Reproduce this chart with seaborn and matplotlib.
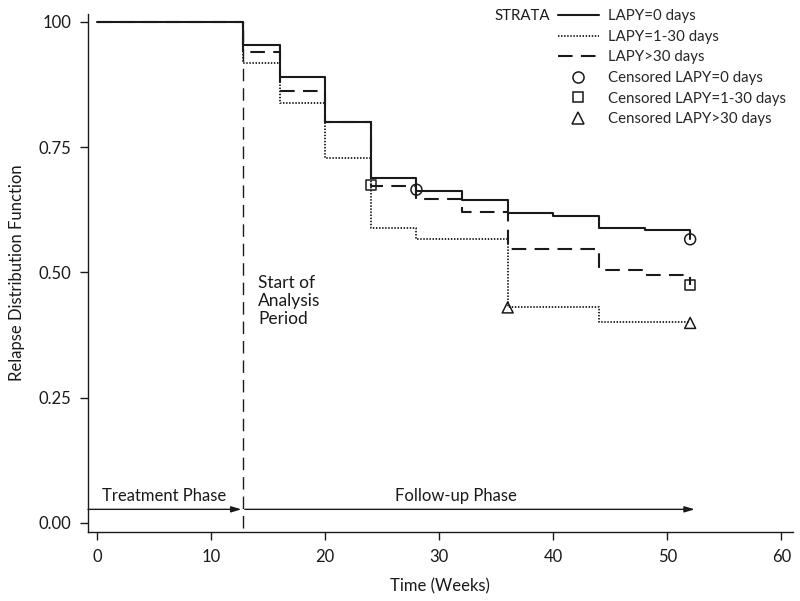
import pandas as pd
import matplotlib
matplotlib.use("Agg")
import matplotlib.pyplot as plt
import seaborn as sns
from matplotlib.lines import Line2D

# step data (Kaplan-Meier style relapse curves)
weeks_0 = [0, 12.8, 16, 20, 24, 28, 32, 36, 40, 44, 48, 52]
rdf_0 = [1.0, 0.953, 0.890, 0.801, 0.688, 0.663, 0.645, 0.618, 0.613, 0.589, 0.585, 0.566]

weeks_1_30 = [0, 12.8, 16, 20, 24, 28, 36, 44, 52]
rdf_1_30 = [1.0, 0.917, 0.839, 0.729, 0.588, 0.566, 0.430, 0.400, 0.400]

weeks_gt30 = [0, 12.8, 16, 20, 24, 28, 32, 36, 44, 48, 52]
rdf_gt30 = [1.0, 0.940, 0.861, 0.801, 0.673, 0.646, 0.621, 0.546, 0.504, 0.495, 0.475]

# censored points
cens_weeks_0 = [28, 52]
cens_rdf_0 = [0.665, 0.566]
cens_weeks_1_30 = [24, 52]
cens_rdf_1_30 = [0.674, 0.475]
cens_weeks_gt30 = [36, 52]
cens_rdf_gt30 = [0.430, 0.399]

strata = ["LAPY=0 days", "LAPY=1-30 days", "LAPY>30 days"]
x_ticks = [0, 10, 20, 30, 40, 50, 60]
y_ticks = [0.0, 0.25, 0.50, 0.75, 1.0]
y_tick_labels = ["0.00", "0.25", "0.50", "0.75", "100"]

analysis_start = 12.8
followup_end = 52.4
phase_y = 0.027

curves = pd.concat([
    pd.DataFrame({"week": weeks_0, "rdf": rdf_0, "strata": strata[0]}),
    pd.DataFrame({"week": weeks_1_30, "rdf": rdf_1_30, "strata": strata[1]}),
    pd.DataFrame({"week": weeks_gt30, "rdf": rdf_gt30, "strata": strata[2]}),
])
censored = pd.concat([
    pd.DataFrame({"week": cens_weeks_0, "rdf": cens_rdf_0, "strata": strata[0]}),
    pd.DataFrame({"week": cens_weeks_1_30, "rdf": cens_rdf_1_30, "strata": strata[1]}),
    pd.DataFrame({"week": cens_weeks_gt30, "rdf": cens_rdf_gt30, "strata": strata[2]}),
])

sns.set_style("ticks")
plt.rcParams["font.family"] = ["Lato", "DejaVu Sans"]
ink = "#1a1a1a"

fig = plt.figure(figsize=(8, 6.01), dpi=100)
ax = fig.add_axes([0.11, 0.115, 0.881, 0.862])

dash_map = {strata[0]: "", strata[1]: (0.8, 0.9), strata[2]: (7, 4)}
for name, lw in zip(strata, [1.5, 1.3, 1.5]):
    sns.lineplot(data=curves[curves["strata"] == name], x="week", y="rdf",
                 style="strata", dashes={name: dash_map[name]},
                 drawstyle="steps-post", estimator=None, sort=False,
                 color=ink, lw=lw, legend=False, ax=ax)

marker_map = {strata[0]: "o", strata[1]: "s", strata[2]: "^"}
size_map = {strata[0]: 62, strata[1]: 48, strata[2]: 62}
for name in strata:
    sub = censored[censored["strata"] == name]
    sns.scatterplot(data=sub, x="week", y="rdf", marker=marker_map[name],
                    s=size_map[name], facecolor="none", edgecolor=ink,
                    linewidth=1.1, legend=False, ax=ax, zorder=5)

# start of analysis period
ax.vlines(analysis_start, -0.01, 1.0, colors=ink, lw=1.0, linestyles=(0, (9, 5)))
ax.text(analysis_start + 1.3, 0.495, "Start of\nAnalysis\nPeriod", fontsize=12.5,
        va="top", ha="left", color=ink, linespacing=1.15)

# phase arrows
arrow = dict(arrowstyle="-|>,head_length=0.6,head_width=0.18", color=ink, lw=1.0,
             shrinkA=0, shrinkB=0)
ax.annotate("", xy=(analysis_start - 0.15, phase_y), xytext=(-0.8, phase_y), arrowprops=arrow)
ax.annotate("", xy=(followup_end, phase_y), xytext=(analysis_start + 0.15, phase_y),
            arrowprops=arrow)
ax.text(5.9, 0.054, "Treatment Phase", ha="center", va="center", fontsize=12, color=ink)
ax.text(31.5, 0.054, "Follow-up Phase", ha="center", va="center", fontsize=12, color=ink)

ax.set_xlim(-0.8, 61.0)
ax.set_ylim(-0.018, 1.016)
ax.set_xticks(x_ticks)
ax.set_yticks(y_ticks)
ax.set_yticklabels(y_tick_labels)
ax.tick_params(labelsize=12, length=6, width=1, colors=ink, pad=6)
ax.set_xlabel("Time (Weeks)", fontsize=12, color=ink, labelpad=10)
ax.set_ylabel("Relapse Distribution Function", fontsize=12, color=ink, labelpad=10)
sns.despine(ax=ax)
for sp in ["left", "bottom"]:
    ax.spines[sp].set_color(ink)
    ax.spines[sp].set_linewidth(1.0)

# legend
handles = [
    Line2D([], [], color=ink, lw=1.5),
    Line2D([], [], color=ink, lw=1.3, dashes=(0.8, 0.9)),
    Line2D([], [], color=ink, lw=1.5, dashes=(7, 4)),
    Line2D([], [], ls="none", marker="o", ms=8, mfc="none", mec=ink, mew=1.1),
    Line2D([], [], ls="none", marker="s", ms=7, mfc="none", mec=ink, mew=1.1),
    Line2D([], [], ls="none", marker="^", ms=8, mfc="none", mec=ink, mew=1.1),
]
labels = strata + ["Censored " + s for s in strata]
ax.legend(handles, labels, loc="upper left", bbox_to_anchor=(0.667, 1.009),
          frameon=False, fontsize=10.8, handlelength=2.7, handletextpad=0.65,
          labelspacing=0.44, borderpad=0, borderaxespad=0)
ax.text(0.577, 0.996, "STRATA", transform=ax.transAxes, fontsize=10.8,
        va="center", ha="left", color=ink)

fig.savefig("out.png", dpi=100)
